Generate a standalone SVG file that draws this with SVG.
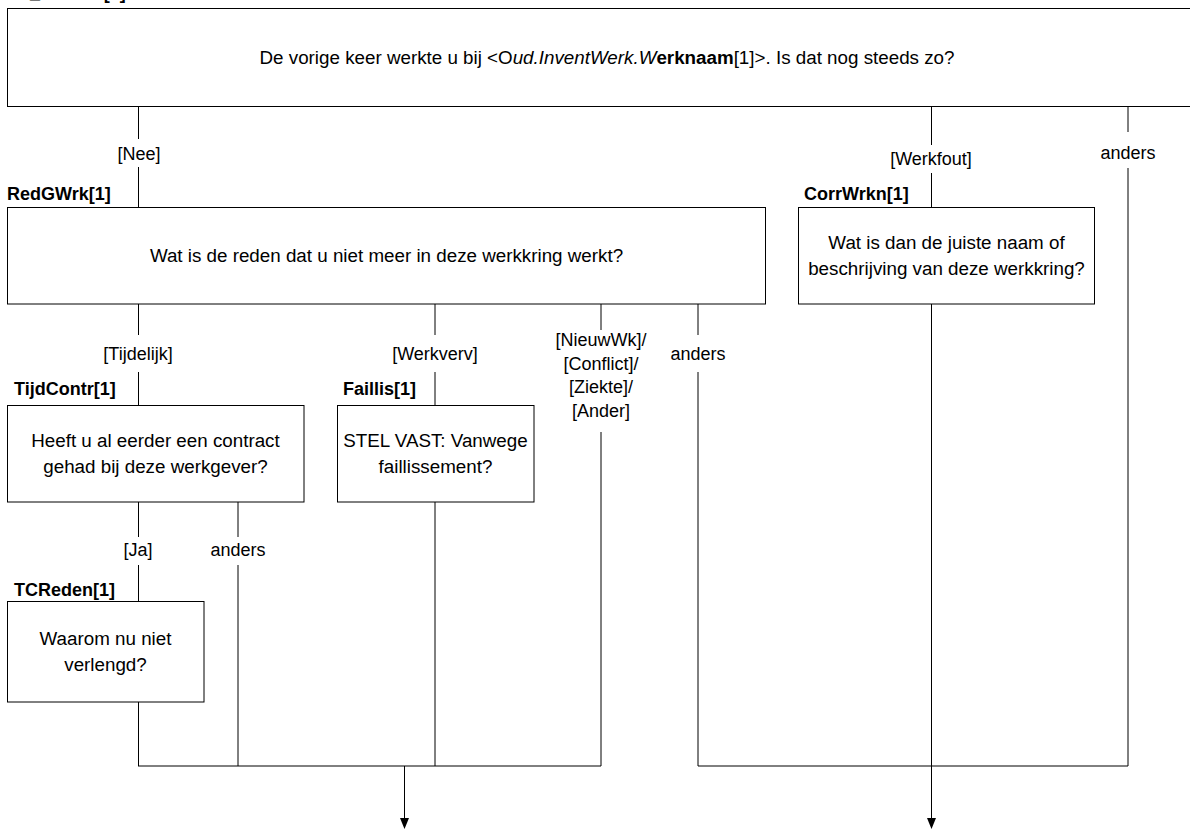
<svg xmlns="http://www.w3.org/2000/svg" width="1190" height="833" viewBox="0 0 1190 833">
<defs>
<style>
text{font-family:"Liberation Sans",Arial,sans-serif;font-size:18px;fill:#000}
.lbl{font-weight:bold}
.q{font-size:18.8px}
.c{text-anchor:middle}
.box{fill:#fff;stroke:#000;stroke-width:1}
.ln{fill:none;stroke:#000;stroke-width:1}
.ah{fill:#000;stroke:none}
</style>
</defs>
<rect width="1190" height="833" fill="#fff"/>

<g id="connectors">
<path class="ln" d="M138.5,107 V139 M138.5,167 V207.5"/>
<path class="ln" d="M931.5,107 V145 M931.5,173 V207.5"/>
<path class="ln" d="M1128,107 V132 M1128,168 V766"/>
<path class="ln" d="M138.5,304 V335 M138.5,372 V405"/>
<path class="ln" d="M435,304 V335 M435,372 V405"/>
<path class="ln" d="M601,304 V330 M601,432 V766"/>
<path class="ln" d="M698,304 V335 M698,372 V766"/>
<path class="ln" d="M138.5,502 V537 M138.5,565 V601.5"/>
<path class="ln" d="M238,502 V537 M238,565 V766"/>
<path class="ln" d="M138.5,702 V766"/>
<path class="ln" d="M435,502 V766"/>
<path class="ln" d="M138,766 H601"/>
<path class="ln" d="M698,766 H1128"/>
<path class="ln" d="M404.5,766 V820"/>
<polygon class="ah" points="400,818 409,818 404.5,829"/>
<path class="ln" d="M931.5,304 V820"/>
<polygon class="ah" points="927,818 936,818 931.5,829"/>
<text class="c" x="139" y="160">[Nee]</text>
<text class="c" x="931" y="165">[Werkfout]</text>
<text class="c" x="1128" y="159">anders</text>
<text class="c" x="138" y="359.5">[Tijdelijk]</text>
<text class="c" x="435" y="359.5">[Werkverv]</text>
<text class="c" x="601" y="346">[NieuwWk]/</text>
<text class="c" x="601" y="369.5">[Conflict]/</text>
<text class="c" x="601" y="393">[Ziekte]/</text>
<text class="c" x="601" y="416.5">[Ander]</text>
<text class="c" x="698" y="359.5">anders</text>
<text class="c" x="138" y="556">[Ja]</text>
<text class="c" x="238" y="556">anders</text>
</g>

<g id="top">
<text class="lbl" x="8" y="-1.5">Ev_GWerkt[1]</text>
<rect class="box" x="7.5" y="8.5" width="1200" height="98"/>
<text class="c q" x="607" y="64">De vorige keer werkte u bij &lt;O<tspan font-style="italic">ud.InventWerk.W</tspan><tspan font-weight="bold">erknaam</tspan>[1]&gt;. Is dat nog steeds zo?</text>
</g>

<g id="RedGWrk">
<text class="lbl" x="7" y="199.5">RedGWrk[1]</text>
<rect class="box" x="7.5" y="207.5" width="758" height="96.5"/>
<text class="c q" x="386.5" y="262">Wat is de reden dat u niet meer in deze werkkring werkt?</text>
</g>

<g id="CorrWrkn">
<text class="lbl" x="804" y="199.5">CorrWrkn[1]</text>
<rect class="box" x="798.5" y="207.5" width="296" height="96.5"/>
<text class="c q" x="946.5" y="249">Wat is dan de juiste naam of</text>
<text class="c q" x="946.5" y="275">beschrijving van deze werkkring?</text>
</g>

<g id="TijdContr">
<text class="lbl" x="14" y="394.5">TijdContr[1]</text>
<rect class="box" x="7.5" y="405.5" width="296.5" height="96.5"/>
<text class="c q" x="155.5" y="447">Heeft u al eerder een contract</text>
<text class="c q" x="155.5" y="473">gehad bij deze werkgever?</text>
</g>

<g id="Faillis">
<text class="lbl" x="343" y="394.5">Faillis[1]</text>
<rect class="box" x="337.5" y="405.5" width="196.5" height="96.5"/>
<text class="c q" x="435.5" y="447">STEL VAST: Vanwege</text>
<text class="c q" x="435.5" y="473">faillissement?</text>
</g>

<g id="TCReden">
<text class="lbl" x="14" y="596">TCReden[1]</text>
<rect class="box" x="7.5" y="601.5" width="196.5" height="100.5"/>
<text class="c q" x="105.5" y="645">Waarom nu niet</text>
<text class="c q" x="105.5" y="671">verlengd?</text>
</g>
</svg>
